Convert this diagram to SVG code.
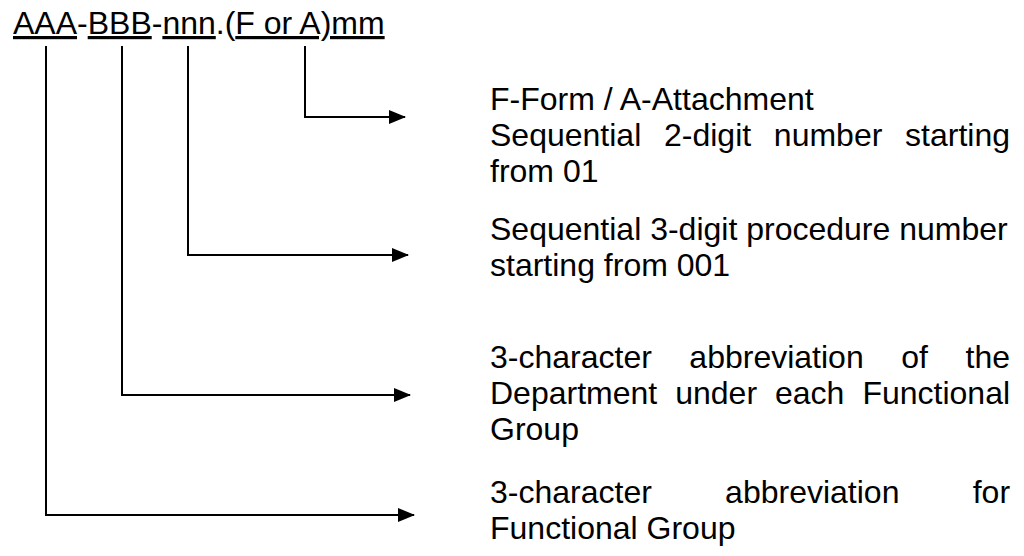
<svg xmlns="http://www.w3.org/2000/svg" width="1024" height="556" viewBox="0 0 1024 556">
<style>
.hdr{font-family:"Liberation Sans",Arial,sans-serif;font-size:32px;fill:#000}
.t{font-family:"Liberation Sans",Arial,sans-serif;font-size:32px;fill:#000}
.u{text-decoration:underline}
.ln{fill:none;stroke:#000;stroke-width:2}
</style>
<defs>
<marker id="ah" markerUnits="userSpaceOnUse" markerWidth="18" markerHeight="16" refX="16" refY="7" orient="auto">
<path d="M0,0 L17,7 L0,14 Z" fill="#000"/>
</marker>
</defs>
<rect width="1024" height="556" fill="#fff"/>
<g id="code">
<text class="hdr" x="13" y="34"><tspan class="u">AAA</tspan>-<tspan class="u">BBB</tspan>-<tspan class="u">nnn</tspan>.(<tspan class="u">F or A)mm</tspan></text>
</g>
<g id="connectors">
<path class="ln" d="M305,46 V117 H405" marker-end="url(#ah)"/>
<path class="ln" d="M188,46 V255 H408" marker-end="url(#ah)"/>
<path class="ln" d="M122,46 V395 H410" marker-end="url(#ah)"/>
<path class="ln" d="M46,46 V515 H414" marker-end="url(#ah)"/>
</g>
<g id="label-form">
<text class="t" x="490" y="110">F-Form / A-Attachment</text>
<text class="t" y="146"><tspan x="490">Sequential</tspan><tspan x="663.97">2-digit</tspan><tspan x="773.84">number</tspan><tspan x="905.11">starting</tspan></text>
<text class="t" x="490" y="182">from 01</text>
</g>
<g id="label-procedure">
<text class="t" x="490" y="240">Sequential 3-digit procedure number</text>
<text class="t" x="490" y="276">starting from 001</text>
</g>
<g id="label-department">
<text class="t" y="368"><tspan x="490">3-character</tspan><tspan x="689.37">abbreviation</tspan><tspan x="901.24">of</tspan><tspan x="965.51">the</tspan></text>
<text class="t" y="404"><tspan x="490">Department</tspan><tspan x="675.2">under</tspan><tspan x="775">each</tspan><tspan x="862.4">Functional</tspan></text>
<text class="t" x="490" y="440">Group</text>
</g>
<g id="label-group">
<text class="t" y="503"><tspan x="490">3-character</tspan><tspan x="725.1">abbreviation</tspan><tspan x="972.7">for</tspan></text>
<text class="t" x="490" y="539">Functional Group</text>
</g>
</svg>
